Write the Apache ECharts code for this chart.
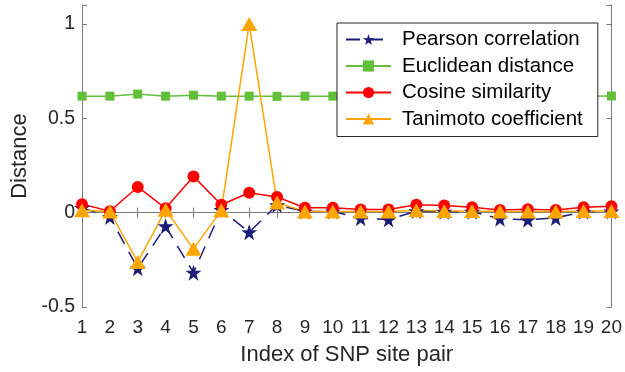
<!DOCTYPE html>
<html><head><meta charset="utf-8">
<script src="https://cdn.jsdelivr.net/npm/echarts@6/dist/echarts.min.js"></script>
<style>html,body{margin:0;padding:0;background:#fff}#c{width:625px;height:372px}</style>
</head><body><div id="c"></div>
<script>
const idx = [1,2,3,4,5,6,7,8,9,10,11,12,13,14,15,16,17,18,19,20];
const pearson   = [0.025,-0.023,-0.295,-0.072,-0.318,0.014,-0.104,0.04,0.006,0.006,-0.03,-0.037,0.008,0.005,0.005,-0.032,-0.038,-0.028,0.005,0.006];
const euclidean = [0.617,0.617,0.628,0.617,0.622,0.617,0.617,0.616,0.617,0.617,0.617,0.617,0.617,0.617,0.617,0.617,0.617,0.617,0.617,0.618];
const cosine    = [0.045,0.007,0.136,0.023,0.192,0.042,0.105,0.083,0.026,0.026,0.016,0.016,0.042,0.038,0.028,0.014,0.018,0.014,0.028,0.034];
const tanimoto  = [0.012,0.006,-0.262,0.015,-0.192,0.012,1.0,0.053,0.006,0.006,0.006,0.006,0.012,0.008,0.008,0.006,0.006,0.006,0.008,0.008];
const yTicks = [-0.5,0,0.5,1];
const names = ['Pearson correlation','Euclidean distance','Cosine similarity','Tanimoto coefficient'];

const star = 'path://M50,0 L61.8,35.3 L98.5,35.3 L68.8,57.1 L79.4,92.7 L50,70.9 L20.6,92.7 L31.2,57.1 L1.5,35.3 L38.2,35.3 Z';
const font = 'Liberation Sans, Arial, Helvetica, sans-serif';
const axisCol = '#7a7a7a';
const mk = (a) => a.map((v,i)=>[idx[i], v]);

const chart = echarts.init(document.getElementById('c'), null, {renderer:'canvas'});
chart.setOption({
  animation:false,
  backgroundColor:'#fff',
  grid:{left:82, right:11, top:5, bottom:65, containLabel:false},
  legend:{
    data:names, orient:'vertical', left:337, top:23,
    backgroundColor:'#fff', borderColor:'#262626', borderWidth:1, borderRadius:0,
    padding:[6,15,7,8], itemGap:5.5, itemWidth:45, itemHeight:14,
    textStyle:{fontFamily:font, fontSize:20.5, color:'#000', padding:[0,0,0,6]}
  },
  xAxis:[{
    type:'value', min:1, max:20, interval:1,
    name:'Index of SNP site pair', nameLocation:'middle', nameGap:37,
    nameTextStyle:{fontFamily:font, fontSize:22, color:'#262626'},
    axisLine:{lineStyle:{color:axisCol}}, axisTick:{inside:true, length:5, lineStyle:{color:axisCol}},
    axisLabel:{fontFamily:font, fontSize:19, color:'#262626', margin:11},
    splitLine:{show:false}
  },{
    type:'value', min:1, max:20, interval:1, position:'top',
    axisLine:{lineStyle:{color:axisCol}}, axisTick:{inside:true, length:5, lineStyle:{color:axisCol}},
    axisLabel:{show:false}, splitLine:{show:false}
  }],
  yAxis:[{
    type:'value', min:-0.5, max:1.1, interval:0.5,
    name:'Distance', nameLocation:'middle', nameGap:49, nameRotate:90,
    nameTextStyle:{fontFamily:font, fontSize:22, color:'#262626'},
    axisLine:{lineStyle:{color:axisCol}}, axisTick:{inside:true, length:5, lineStyle:{color:axisCol}},
    axisLabel:{fontFamily:font, fontSize:19.5, color:'#262626', margin:7,
      formatter:(v)=> yTicks.some(t=>Math.abs(t-v)<1e-9) ? String(v) : ''},
    splitLine:{show:false}
  },{
    type:'value', min:-0.5, max:1.1, interval:0.5, position:'right',
    axisLine:{lineStyle:{color:axisCol}}, axisTick:{inside:true, length:5, lineStyle:{color:axisCol}},
    axisLabel:{show:false}, splitLine:{show:false}
  }],
  series:[
    {name:names[0], type:'line', data:mk(pearson), symbol:star, symbolSize:16,
     lineStyle:{color:'#1c1c78', width:1.5, type:[14,9]}, itemStyle:{color:'#1c1c78'}},
    {name:names[1], type:'line', data:mk(euclidean), symbol:'rect', symbolSize:9,
     lineStyle:{color:'#62bf3a', width:1.5}, itemStyle:{color:'#62bf3a'}},
    {name:names[2], type:'line', data:mk(cosine), symbol:'circle', symbolSize:12,
     lineStyle:{color:'#ff0000', width:1.5}, itemStyle:{color:'#ff0000'}},
    {name:names[3], type:'line', data:mk(tanimoto), symbol:'triangle', symbolSize:[16,14],
     lineStyle:{color:'#ffa500', width:1.5}, itemStyle:{color:'#ffa500'}}
  ]
});
</script></body></html>
